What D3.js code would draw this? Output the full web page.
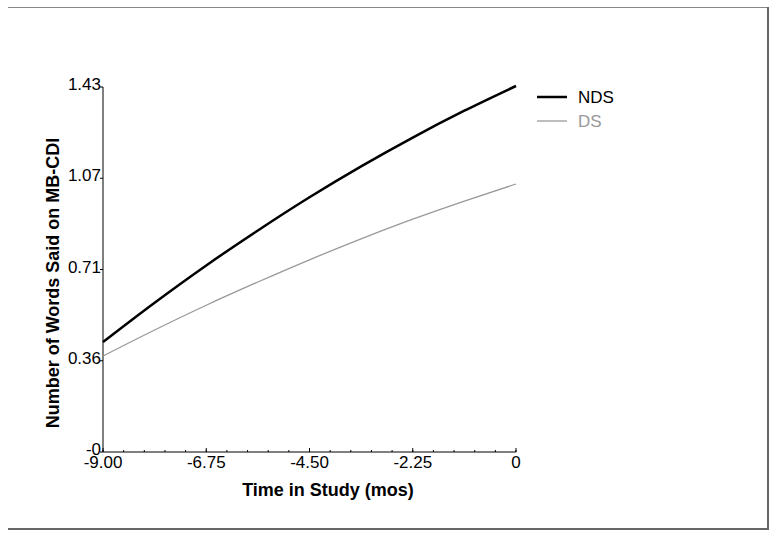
<!DOCTYPE html>
<html><head><meta charset="utf-8">
<script src="https://cdn.jsdelivr.net/npm/d3@7/dist/d3.min.js"></script>
<style>body{margin:0;background:#fff}svg{display:block}text{font-family:"Liberation Sans",Arial,sans-serif}</style>
</head><body><svg id="c" width="777" height="537"></svg>
<script>
const months = [-9, -7.875, -6.75, -5.625, -4.5, -3.375, -2.25, -1.125, 0];
const ndsValues = [0.431, 0.585, 0.731, 0.868, 0.998, 1.119, 1.232, 1.337, 1.434];
const dsValues  = [0.376, 0.478, 0.575, 0.666, 0.753, 0.835, 0.912, 0.983, 1.050];
const xTickValues = [-9, -6.75, -4.5, -2.25, 0];
const xTickLabels = ["-9.00", "-6.75", "-4.50", "-2.25", "0"];
const yTickValues = [0, 0.3575, 0.715, 1.0725, 1.43];
const yTickLabels = ["-0", "0.36", "0.71", "1.07", "1.43"];
const seriesNames = ["NDS", "DS"];

const svg = d3.select("#c");
const x = d3.scaleLinear().domain([-9, 0]).range([103, 516]);
const y = d3.scaleLinear().domain([0, 1.43]).range([452, 87]);

// frame
svg.append("line").attr("x1", 8).attr("x2", 768).attr("y1", 7.5).attr("y2", 7.5).attr("stroke", "#888").attr("stroke-width", 1.2);
svg.append("line").attr("x1", 768).attr("x2", 768).attr("y1", 7).attr("y2", 529).attr("stroke", "#666").attr("stroke-width", 2);
svg.append("line").attr("x1", 8).attr("x2", 769).attr("y1", 529).attr("y2", 529).attr("stroke", "#666").attr("stroke-width", 2);

// x axis
const xAxis = svg.append("g").attr("transform", "translate(0,452)");
xAxis.append("line").attr("x1", 103).attr("x2", 516).attr("stroke", "#000");
const minor = d3.range(-9, 0.001, 0.45);
xAxis.selectAll("line.mn").data(minor).join("line").attr("class", "mn")
  .attr("x1", d => x(d)).attr("x2", d => x(d)).attr("y1", 0).attr("y2", -2).attr("stroke", "#000");
xAxis.selectAll("line.mj").data(xTickValues).join("line").attr("class", "mj")
  .attr("x1", d => x(d)).attr("x2", d => x(d)).attr("y1", 0).attr("y2", -4).attr("stroke", "#000");
xAxis.selectAll("text").data(xTickValues).join("text")
  .attr("x", d => x(d)).attr("y", 16).attr("text-anchor", "middle")
  .attr("font-size", 17).text((d, i) => xTickLabels[i]);

// y axis
const yAxis = svg.append("g");
yAxis.append("line").attr("x1", 103).attr("x2", 103).attr("y1", 87).attr("y2", 452).attr("stroke", "#000");
yAxis.selectAll("line.t").data(yTickValues).join("line").attr("class", "t")
  .attr("x1", 100).attr("x2", 103).attr("y1", d => y(d)).attr("y2", d => y(d)).attr("stroke", "#000");
yAxis.selectAll("text").data(yTickValues).join("text")
  .attr("x", 101).attr("y", d => y(d) + 3).attr("text-anchor", "end")
  .attr("font-size", 17).text((d, i) => yTickLabels[i]);

// titles
svg.append("text").attr("x", 328).attr("y", 496).attr("text-anchor", "middle")
  .attr("font-size", 18).attr("font-weight", "bold").text("Time in Study (mos)");
svg.append("text").attr("transform", "translate(59,283) rotate(-90)").attr("text-anchor", "middle")
  .attr("font-size", 18).attr("font-weight", "bold").text("Number of Words Said on MB-CDI");

// lines
const line = d3.line().x((d, i) => x(months[i])).y(d => y(d)).curve(d3.curveMonotoneX);
svg.append("path").datum(dsValues).attr("d", line).attr("fill", "none").attr("stroke", "#999").attr("stroke-width", 1.3);
svg.append("path").datum(ndsValues).attr("d", line).attr("fill", "none").attr("stroke", "#000").attr("stroke-width", 2.5);

// legend
const colors = ["#000", "#999"], widths = [2.5, 1.3];
const lg = svg.append("g");
seriesNames.forEach((n, i) => {
  const yy = 97 + i * 24;
  lg.append("line").attr("x1", 537).attr("x2", 567).attr("y1", yy).attr("y2", yy).attr("stroke", colors[i]).attr("stroke-width", widths[i]);
  lg.append("text").attr("x", 578).attr("y", yy + 6).attr("font-size", 17).attr("fill", colors[i]).text(n);
});
</script></body></html>
